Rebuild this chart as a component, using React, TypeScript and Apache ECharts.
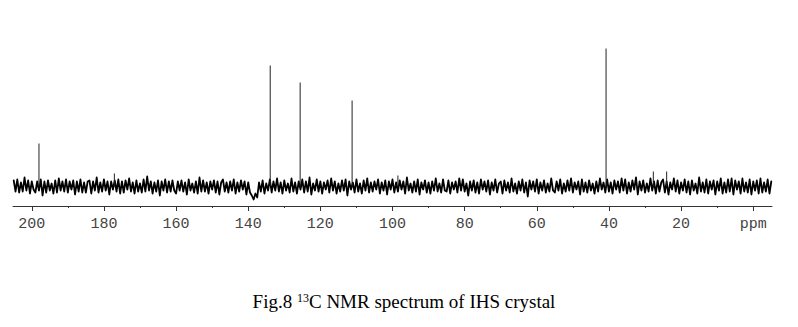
import React, { useEffect, useRef } from "react";
import * as echarts from "echarts";

// Chemical shift axis (ppm), tick labels
const majorTicks = [200, 180, 160, 140, 120, 100, 80, 60, 40, 20, 0];
const minorTicks = [190, 170, 150, 130, 110, 90, 70, 50, 30, 10];

// Resonance peaks: position (ppm) and height (arbitrary intensity)
const peakPpm = [198.0, 177.1, 133.9, 125.6, 111.2, 98.5, 40.8, 27.7, 24.0];
const peakHeight = [43, 13, 121, 104, 86, 11, 138, 15, 15];

// Baseline noise, sampled every 0.5 ppm starting at 205 ppm
const noiseStart = 205;
const noiseStep = 0.5;
const noise = [
  6, -5, 7, -6, 4, -5, 9, -4, 6, -7, 5, -3, -6, 5, -4, 7, -9, 5, -6, 6, -4, 3, -7, 6, -6, 8, -4, 5, -5, 7,
  -6, 5, -3, 6, -8, 5, -5, 7, -6, 4, -6, 5, 6, -7, 5, -4, 9, -6, 4, -5, 7, -4, 5, -8, 5, -3, 6, -5, 7, -7,
  5, -6, 6, -3, 8, -5, 4, -7, 6, -5, 3, -6, 7, -5, 10, -4, 5, -7, 4, -5, 6, -9, 5, -4, 7, -6, 5, -5, 6, -4,
  -7, 5, -4, 6, -5, 4, -8, 7, -4, 3, -6, 5, -7, 9, -5, 6, -5, 4, -7, 5, -3, 6, -6, 5, -8, 4, 7, -5, 4, -6,
  5, -4, 7, -7, 4, -5, 6, -3, 5, -8, 4, -6, -9, -13, -7, -11, 4, -5, 6, -7, 3, -4, 7, -6, 5, -4, 8, -5, 4, -7,
  6, -4, 3, -6, 8, -5, 4, -7, 5, -3, 7, -6, 5, -5, 9, -8, 3, -4, 7, -5, 5, -7, 4, -3, 6, -6, 8, -4, 5, -7,
  3, -5, 6, -4, 7, -9, 5, -3, 4, -6, 7, -5, 3, -7, 6, -4, 8, -6, 4, -5, 5, -3, 7, -7, 4, -4, 6, -8, 5, -3,
  7, -6, 4, -5, 6, -3, 5, -7, 9, -4, 3, -6, 5, -5, 7, -8, 4, -3, 6, -6, 4, -7, 5, -4, 8, -5, 3, -6, 7, -4,
  -5, 6, -7, 4, -3, 5, -6, 8, -4, 7, -5, 3, -9, 5, -4, 6, -6, 4, -7, 7, -3, 5, -5, 6, -8, 4, -4, 7, -6, 3,
  5, -7, 6, -4, 4, -6, 8, -5, 3, -7, 5, -4, 7, -6, 4, -10, 6, -3, 5, -5, 7, -7, 4, -4, 6, -6, 3, -5, 8, -4,
  -6, 5, -4, 7, -7, 3, -5, 6, -4, 8, -6, 4, -3, 5, -8, 7, -5, 4, -6, 6, -4, 3, -7, 5, -5, 8, -3, 4, -6, 7,
  -5, 4, -7, 6, -3, 5, -6, 8, -4, 7, -7, 4, -5, 6, -3, 9, -8, 5, -4, 6, -6, 3, -5, 8, -4, 5, -7, 6, -5, 4,
  7, -6, 5, -8, 4, -3, 8, -5, 6, -7, 4, -4, 7, -6, 5, -8, 6, -4, 3, -7, 9, -5, 4, -6, 7, -7, 5, -3, 6, -8,
  5, -4, 8, -7, 4, -6, 7, -5, 8, -8, 6, -3, 5, -7, 8, -5, 4, -6, 7, -8, 5, -4, 6, -7, 8, -6, 4, -5, 7, -7,
  5,
];

const captionMain = "Fig.8 {sup|13}C NMR spectrum of IHS crystal";

const serif = "'Liberation Serif', 'Times New Roman', serif";
const mono = "'Liberation Mono', 'Courier New', monospace";

export default function App() {
  const ref = useRef<HTMLDivElement>(null);

  useEffect(() => {
    if (!ref.current) return;
    const chart = echarts.init(ref.current, null, { renderer: "svg" });

    const noiseData = noise.map((v, i) => [
      +(noiseStart - i * noiseStep).toFixed(2),
      v,
    ]);

    const peakSeries = peakPpm.map((p, k) => ({
      type: "line",
      xAxisIndex: 0,
      yAxisIndex: 0,
      data: [
        [p, 0],
        [p, peakHeight[k]],
      ],
      symbol: "none",
      lineStyle: { color: "#222", width: 1 },
      clip: true,
      silent: true,
    }));

    const gridBox = { left: 13, right: 26, top: 36, bottom: 121 };
    const baseX = {
      type: "value",
      inverse: true,
      min: -5.2,
      max: 205.2,
      position: "bottom",
      splitLine: { show: false },
    };

    chart.setOption({
      animation: false,
      backgroundColor: "#fff",
      grid: [gridBox, gridBox],
      xAxis: [
        {
          ...baseX,
          gridIndex: 0,
          axisLine: {
            show: true,
            onZero: false,
            lineStyle: { color: "#333", width: 1 },
          },
          axisTick: {
            show: true,
            customValues: majorTicks,
            length: 5,
            lineStyle: { color: "#333" },
          },
          axisLabel: {
            show: true,
            customValues: majorTicks,
            margin: 11,
            fontFamily: mono,
            fontSize: 15,
            color: "#444",
            formatter: (v: number) => (v === 0 ? "ppm" : String(v)),
          },
        },
        {
          ...baseX,
          gridIndex: 1,
          axisLine: { show: false, onZero: false },
          axisTick: {
            show: true,
            customValues: minorTicks,
            length: 2,
            lineStyle: { color: "#333" },
          },
          axisLabel: { show: false },
        },
      ],
      yAxis: [
        { type: "value", gridIndex: 0, min: -19.5, max: 150.5, show: false, splitLine: { show: false } },
        { type: "value", gridIndex: 1, min: -19.5, max: 150.5, show: false, splitLine: { show: false } },
      ],
      series: [
        {
          type: "line",
          xAxisIndex: 0,
          yAxisIndex: 0,
          data: noiseData,
          symbol: "none",
          sampling: "none",
          lineStyle: { color: "#000", width: 1.8, join: "round", cap: "round" },
          clip: true,
          silent: true,
        },
        ...peakSeries,
      ],
      graphic: [
        {
          type: "text",
          x: 404,
          y: 301,
          style: {
            text: captionMain,
            fontFamily: serif,
            fontSize: 19,
            fill: "#000",
            align: "center",
            verticalAlign: "middle",
            rich: {
              sup: {
                fontFamily: serif,
                fontSize: 12,
                verticalAlign: "top",
              },
            },
          },
        },
      ],
    });
    return () => chart.dispose();
  }, []);

  return (
    <div
      ref={ref}
      style={{ position: "fixed", left: 0, top: 0, width: 798, height: 327 }}
    />
  );
}
